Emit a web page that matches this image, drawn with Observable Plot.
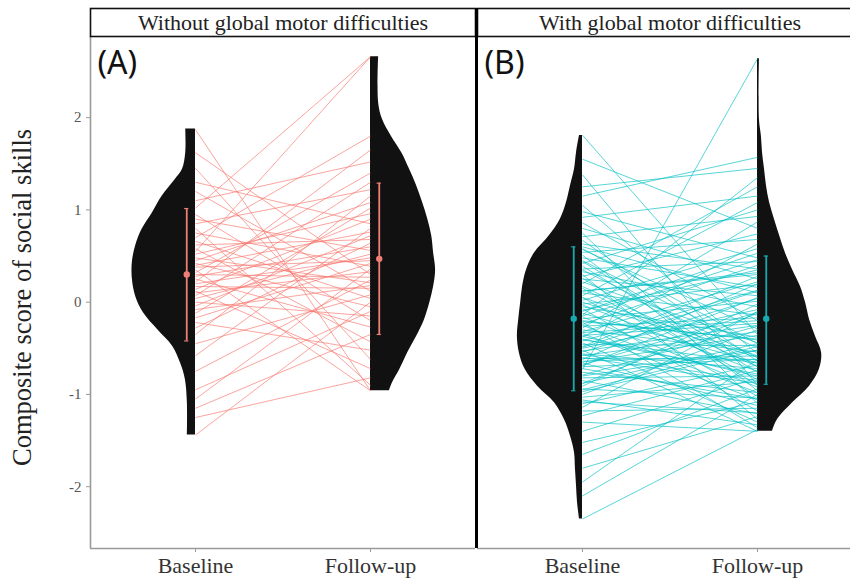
<!DOCTYPE html>
<html><head><meta charset="utf-8">
<script src="https://cdn.jsdelivr.net/npm/d3@7"></script>
<script src="https://cdn.jsdelivr.net/npm/@observablehq/plot@0.6"></script>
<style>html,body{margin:0;padding:0;background:#fff;overflow:hidden;width:850px;height:583px}</style>
</head><body><div id="chart"></div>
<script>
const groups = ["A", "B"];
const stripLabels = ["Without global motor difficulties", "With global motor difficulties"];
const panelTags = ["(A)", "(B)"];
const timeLabels = ["Baseline", "Follow-up"];
const timePos = [1, 2];
const yTicks = [-2, -1, 0, 1, 2];
const yTitle = "Composite score of social skills";
const xDomain = [0.4, 2.6];
const yDomain = [-2.67, 2.88];

// paired scores (same index = same child)
const baselineA = [1.87,1.62,1.45,1.30,1.20,1.10,1.02,0.95,0.90,0.85,0.80,0.75,0.70,0.66,0.62,0.58,0.55,0.52,0.48,0.45,0.42,0.40,0.38,0.35,0.32,0.30,0.28,0.25,0.22,0.20,0.17,0.14,0.12,0.10,0.07,0.04,0.00,-0.04,-0.08,-0.12,-0.17,-0.22,-0.28,-0.35,-0.45,-0.58,-0.75,-0.95,-1.05,-1.15,-1.25,-1.44];
const followupA = [-0.96,0.30,-0.62,0.85,0.12,1.52,2.66,-0.20,0.56,1.22,-0.90,0.39,1.80,0.04,0.68,-0.43,2.66,0.96,0.21,1.08,-0.05,0.76,0.45,-0.96,1.40,0.27,0.60,-0.27,1.65,0.48,0.15,0.90,-0.72,0.33,1.30,0.52,-0.15,0.72,0.18,1.02,0.42,-0.52,0.64,1.15,0.08,0.80,0.24,-0.10,0.36,-0.35,-0.82,0.00];

const baselineB = [1.81,1.55,1.38,1.25,1.15,1.05,0.98,0.92,0.86,0.80,
0.75,0.71,0.67,0.63,0.60,0.57,0.54,0.51,0.48,0.45,
0.42,0.39,0.36,0.33,0.30,0.28,0.25,0.22,0.20,0.17,
0.15,0.12,0.10,0.07,0.05,0.02,0.00,-0.02,-0.05,-0.07,
-0.10,-0.12,-0.14,-0.16,-0.18,-0.20,-0.22,-0.24,-0.26,-0.28,
-0.30,-0.32,-0.34,-0.36,-0.38,-0.40,-0.42,-0.44,-0.46,-0.48,
-0.50,-0.52,-0.54,-0.56,-0.58,-0.60,-0.62,-0.64,-0.66,-0.68,
-0.70,-0.73,-0.76,-0.79,-0.82,-0.85,-0.88,-0.91,-0.94,-0.97,
-1.00,-1.03,-1.06,-1.10,-1.14,-1.18,-1.23,-1.30,-1.40,-1.52,
-1.65,-1.80,-1.95,-2.10,-2.35,
0.58,0.35,0.12,-0.03,-0.15,-0.25,-0.33,-0.41,-0.49,-0.57,
-0.65,-0.72,-0.80,-0.88,0.44,0.26,0.05,-0.09,-0.21,-0.37,
-0.53,-0.61,-0.69,-0.95,-1.08];
const followupB = [-0.35,0.80,-0.90,1.45,1.57,-0.56,0.48,1.15,-0.20,0.25,
-1.10,0.93,-0.64,0.36,0.10,-0.29,0.68,-0.96,0.16,-0.50,
1.00,-0.76,0.44,-0.05,-1.27,0.74,0.07,-0.44,1.25,-0.70,
-0.84,0.32,-0.14,1.08,-1.02,0.58,-0.60,0.19,-0.38,-1.18,
0.53,-0.66,1.35,-0.92,0.01,-0.41,-1.36,0.40,-0.17,0.87,
-0.54,0.22,-1.06,-0.23,0.63,-0.78,0.13,-1.30,-0.47,0.28,
-0.08,-1.40,0.04,-0.72,-0.32,-0.88,0.20,-0.58,-1.12,-0.11,
-0.62,2.64,-0.98,-0.26,-0.80,-1.21,-0.45,-0.02,-1.04,-0.52,
-0.30,-0.86,-1.33,-0.68,-0.10,-1.15,-0.74,-1.40,-0.82,-1.08,
-0.94,-1.24,-0.62,-1.00,-1.38,
-0.45,-0.60,0.30,-0.75,0.46,-0.98,-0.20,-0.66,0.12,-0.85,
-0.36,-1.05,-0.52,-0.12,-0.70,-0.90,-0.58,0.35,-0.40,-0.80,
-0.25,-0.62,0.05,-0.48,-1.20];

// violin profiles: [score, relative density]
const violinBaseA = [[1.877,0.15],[1.62,0.15],[1.44,0.20],[1.33,0.31],[1.15,0.51],[0.97,0.66],[0.79,0.82],[0.61,0.92],[0.43,0.97],[0.25,0.97],[0.065,0.92],[-0.115,0.80],[-0.30,0.58],[-0.48,0.35],[-0.66,0.23],[-0.84,0.155],[-1.09,0.125],[-1.44,0.125]];
const violinFollowA = [[2.66,0.125],[2.16,0.125],[1.98,0.185],[1.80,0.32],[1.62,0.48],[1.44,0.60],[1.26,0.71],[1.08,0.80],[0.90,0.88],[0.72,0.94],[0.53,0.97],[0.35,1.0],[0.17,0.97],[-0.01,0.91],[-0.19,0.83],[-0.37,0.71],[-0.55,0.57],[-0.73,0.45],[-0.87,0.34],[-0.96,0.29]];
const violinBaseB = [[1.806,0.046],[1.62,0.092],[1.44,0.123],[1.26,0.185],[1.08,0.246],[0.90,0.34],[0.72,0.51],[0.53,0.74],[0.35,0.86],[0.17,0.92],[-0.01,0.95],[-0.19,0.98],[-0.37,1.0],[-0.55,0.97],[-0.73,0.88],[-0.91,0.69],[-1.09,0.43],[-1.27,0.28],[-1.45,0.185],[-1.63,0.123],[-1.81,0.108],[-1.99,0.092],[-2.17,0.077],[-2.35,0.046]];
const violinFollowB = [[2.64,0.03],[1.98,0.03],[1.80,0.06],[1.62,0.077],[1.44,0.108],[1.26,0.138],[1.08,0.185],[0.90,0.26],[0.72,0.34],[0.53,0.43],[0.35,0.54],[0.17,0.66],[-0.01,0.74],[-0.19,0.80],[-0.37,0.89],[-0.55,0.985],[-0.73,0.95],[-0.91,0.80],[-1.09,0.54],[-1.27,0.31],[-1.40,0.23]];

// mean and ±1 SD per group and time
const summaryGroup = ["A", "A", "B", "B"];
const summaryTime = [1, 2, 1, 2];
const summaryMean = [0.30, 0.47, -0.18, -0.18];
const summaryLow = [-0.42, -0.35, -0.96, -0.89];
const summaryHigh = [1.015, 1.29, 0.60, 0.50];

const lineColor = {A: "#F8766D", B: "#00BFC4"};
const barColor = {A: "#EE7E76", B: "#17A9B0"};
const serif = "'Liberation Serif','Times New Roman',serif";
const violinHalfWidth = 0.372;
const nudge = 0.05;

const pairs = [
  ...baselineA.map((b, i) => ({g: "A", b, f: followupA[i]})),
  ...baselineB.map((b, i) => ({g: "B", b, f: followupB[i]}))
];
const violinSets = [["A", 1, violinBaseA], ["A", 2, violinFollowA], ["B", 1, violinBaseB], ["B", 2, violinFollowB]];
const violins = violinSets.flatMap(([g, t, prof]) => prof.map(([y, d]) => ({g, t, y, d, id: g + t})));
const summary = summaryGroup.map((g, i) => ({g, t: summaryTime[i], m: summaryMean[i], lo: summaryLow[i], hi: summaryHigh[i]}));
const barX = d => d.t + (d.t === timePos[0] ? -nudge : nudge);
const strips = groups.map((g, i) => ({g, label: stripLabels[i], tag: panelTags[i]}));

const marks = [
  Plot.areaX(violins, {fx: "g", z: "id", y: "y", x1: "t",
    x2: d => d.t + (d.t === timePos[0] ? -1 : 1) * d.d * violinHalfWidth,
    fill: "#111", curve: "catmull-rom"}),
];
for (const g of groups) {
  marks.push(Plot.link(pairs.filter(d => d.g === g), {fx: "g", x1: () => timePos[0], x2: () => timePos[1], y1: "b", y2: "f",
    stroke: lineColor[g], strokeOpacity: 0.66, strokeWidth: 1}));
  const s = summary.filter(d => d.g === g);
  marks.push(
    Plot.ruleX(s, {fx: "g", x: barX, y1: "lo", y2: "hi", stroke: barColor[g], strokeWidth: 1.8}),
    Plot.ruleY(s, {fx: "g", y: "lo", x1: d => barX(d) - 0.012, x2: d => barX(d) + 0.012, stroke: barColor[g], strokeWidth: 1.2}),
    Plot.ruleY(s, {fx: "g", y: "hi", x1: d => barX(d) - 0.012, x2: d => barX(d) + 0.012, stroke: barColor[g], strokeWidth: 1.2}),
    Plot.dot(s, {fx: "g", x: barX, y: "m", r: 3.2, fill: barColor[g], stroke: "none"})
  );
}
marks.push(
  Plot.ruleY([yDomain[0]], {stroke: "#9a9a9a", strokeWidth: 1.6}),
  Plot.ruleX([{g: groups[0], x: xDomain[0]}], {fx: "g", x: "x", stroke: "#9a9a9a", strokeWidth: 1.6}),
  Plot.frame({stroke: "#111", strokeWidth: 1.6, insetTop: -28, insetBottom: 512}),
  Plot.text(strips, {fx: "g", text: "label", frameAnchor: "top", dy: -14, lineAnchor: "middle",
    fontSize: 22, fontFamily: serif, fill: "#222"}),
  Plot.ruleX([{g: groups[1], x: xDomain[0]}], {fx: "g", x: "x", insetTop: -28, dx: -1, stroke: "#000", strokeWidth: 3}),
  Plot.text(strips, {fx: "g", text: "tag", frameAnchor: "top-left", dx: 7, dy: 15, lineAnchor: "top", textAnchor: "start",
    fontSize: 32, fontFamily: "'Noto Sans', sans-serif", fill: "#111"}),
  Plot.text([{g: groups[0], t: yTitle}], {fx: "g", text: "t", frameAnchor: "left", textAnchor: "middle", rotate: -90, dx: -68, dy: 5,
    fontSize: 26.5, fontFamily: serif, fill: "#222"}),
  Plot.axisY(yTicks, {tickFormat: d => String(d), tickSize: 4, tickPadding: 5, fontSize: 15, fontFamily: serif,
    stroke: "#9a9a9a", fill: "#555", label: null}),
  Plot.axisX(timePos, {tickFormat: d => timeLabels[timePos.indexOf(d)], tickSize: 4, tickPadding: 5, fontSize: 22,
    fontFamily: serif, stroke: "#9a9a9a", fill: "#333", label: null})
);

const chart = Plot.plot({
  width: 862, height: 583,
  marginLeft: 90, marginRight: 0, marginTop: 36, marginBottom: 35,
  fx: {domain: groups, paddingInner: 2 / 387, paddingOuter: 0, round: false, axis: null, label: null},
  x: {domain: xDomain},
  y: {domain: yDomain},
  style: {background: "#fff", overflow: "visible"},
  marks
});
chart.style.maxWidth = "none";
chart.style.height = "583px";
chart.style.width = "862px";
document.getElementById("chart").append(chart);
</script></body></html>
